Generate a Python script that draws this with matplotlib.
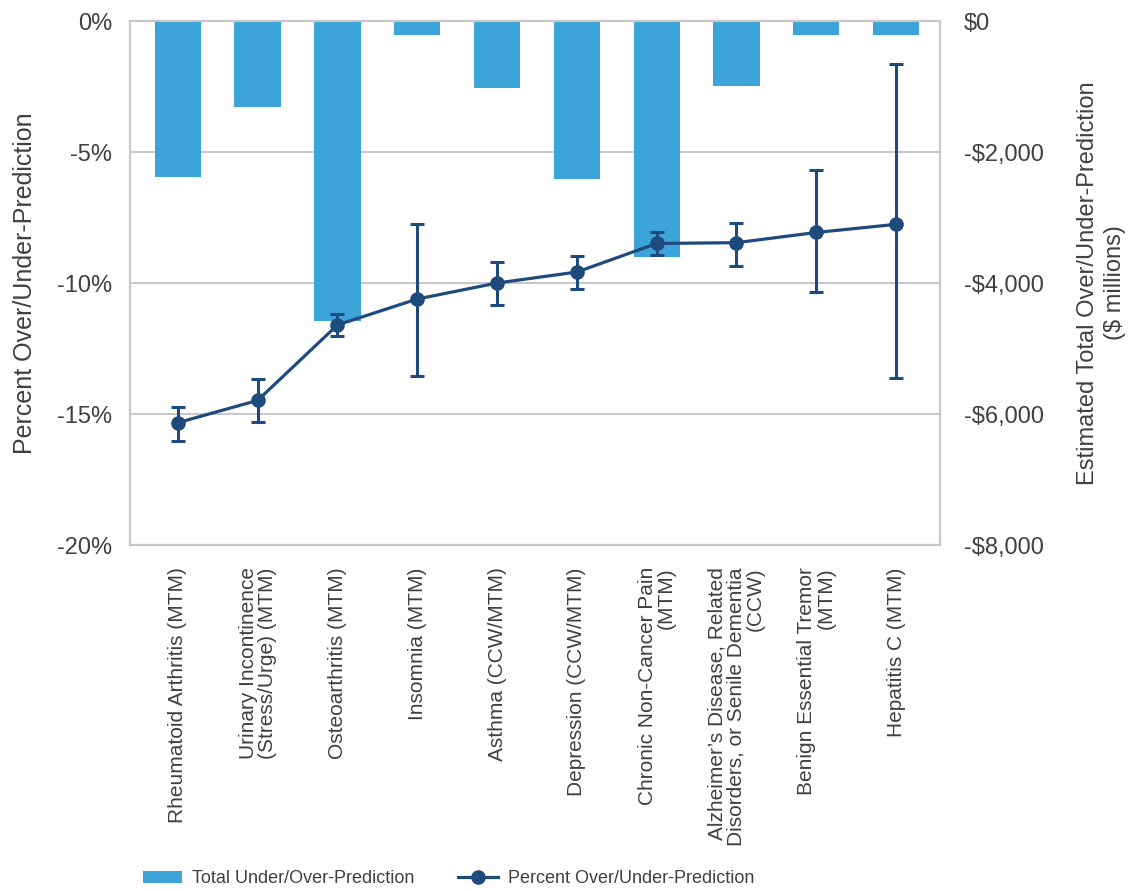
import numpy as np
import matplotlib
matplotlib.use("Agg")
import matplotlib.pyplot as plt
from matplotlib.ticker import FuncFormatter
from matplotlib.lines import Line2D

plt.rcParams['font.family'] = ['Liberation Sans', 'DejaVu Sans']

conditions = [
    "Rheumatoid Arthritis (MTM)",
    "Urinary Incontinence\n(Stress/Urge) (MTM)",
    "Osteoarthritis (MTM)",
    "Insomnia (MTM)",
    "Asthma (CCW/MTM)",
    "Depression (CCW/MTM)",
    "Chronic Non-Cancer Pain\n(MTM)",
    "Alzheimer\u2019s Disease, Related\nDisorders, or Senile Dementia\n(CCW)",
    "Benign Essential Tremor\n(MTM)",
    "Hepatitis C (MTM)",
]
# total under/over-prediction, $ millions
total_musd = [-2380, -1320, -4575, -210, -1020, -2410, -3600, -990, -210, -210]
# percent over/under-prediction with interval bounds
pct = [-15.33, -14.48, -11.60, -10.61, -10.00, -9.58, -8.49, -8.46, -8.07, -7.76]
pct_hi = [-14.73, -13.66, -11.17, -7.75, -9.21, -8.97, -8.04, -7.70, -5.70, -1.65]
pct_lo = [-16.02, -15.29, -12.04, -13.56, -10.83, -10.24, -8.92, -9.34, -10.36, -13.64]

bar_color = "#3DA4DA"
line_color = "#1F4A7E"
text_color = "#404040"
grid_color = "#C8C8C8"

x = np.arange(len(conditions))
pct = np.array(pct)
yerr = [pct - np.array(pct_lo), np.array(pct_hi) - pct]

fig = plt.figure(figsize=(11.29, 8.91), dpi=100)
ax = fig.add_axes([0.1151, 0.3883, 0.7175, 0.5881])
ax2 = ax.twinx()

# dollar bars live on the base axes so the line sits above them;
# swap the sides so dollars read on the right, percent on the left
ax.yaxis.tick_right()
ax.yaxis.set_label_position("right")
ax2.yaxis.tick_left()
ax2.yaxis.set_label_position("left")

bars = ax.bar(x, total_musd, width=0.58, color=bar_color, zorder=2,
              label="Total Under/Over-Prediction")
ax.set_ylim(-8000, 0)
ax.set_yticks([0, -2000, -4000, -6000, -8000])
ax.yaxis.set_major_formatter(FuncFormatter(
    lambda v, p: "$0" if v == 0 else "-${:,.0f}".format(abs(v))))
ax.set_ylabel("Estimated Total Over/Under-Prediction\n($ millions)",
              fontsize=17, color=text_color, labelpad=24, rotation=90,
              linespacing=1.3)
ax.set_xlim(-0.6, 9.55)
ax.grid(axis="y", color=grid_color, linewidth=1.5, zorder=0)
ax.set_axisbelow(True)

ax2.errorbar(x, pct, yerr=yerr, color=line_color, linewidth=2.3,
             marker="o", markersize=9.5, elinewidth=2.2, capsize=5,
             capthick=2.2)
ax2.set_ylim(-20, 0)
ax2.set_yticks([0, -5, -10, -15, -20])
ax2.yaxis.set_major_formatter(FuncFormatter(lambda v, p: "{:.0f}%".format(v)))
ax2.set_ylabel("Percent Over/Under-Prediction", fontsize=18,
               color=text_color, labelpad=14)

for a in (ax, ax2):
    for s in a.spines.values():
        s.set_color(grid_color)
        s.set_linewidth(1.5)
    a.tick_params(axis="y", length=0, labelsize=17, labelcolor=text_color)
ax.tick_params(axis="y", pad=17)
ax2.tick_params(axis="y", pad=13)

ax.set_xticks(x)
ax.set_xticklabels([])
ax.tick_params(axis="x", length=0)
for xi, lab in zip(x, conditions):
    ax.annotate(lab, xy=(xi, 0), xycoords=("data", "axes fraction"),
                xytext=(0, -16), textcoords="offset points",
                rotation=90, ha="center", va="top", multialignment="right",
                fontsize=15, color=text_color, linespacing=1.0)

# legend line handle without the error bar caps
line_handle = Line2D([], [], color=line_color, linewidth=2.3, marker="o",
                     markersize=9.5, label="Percent Over/Under-Prediction")
handles = [bars, line_handle]
fig.legend(handles, [h.get_label() for h in handles], loc="lower left",
           bbox_to_anchor=(0.112, -0.014), ncol=2, frameon=False,
           fontsize=13, labelcolor=text_color, handlelength=2.2,
           columnspacing=2.4, handletextpad=0.55)

fig.savefig("out.png", dpi=100)
